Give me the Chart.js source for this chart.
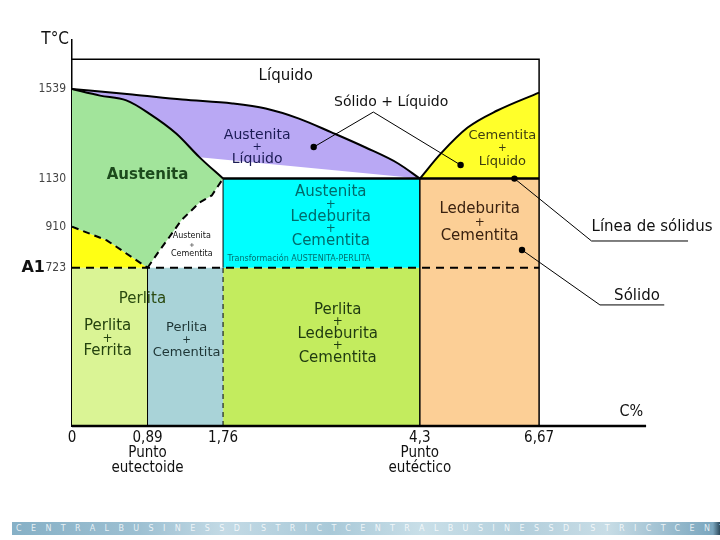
<!DOCTYPE html>
<html>
<head>
<meta charset="utf-8">
<script src="https://cdn.jsdelivr.net/npm/chart.js@4.4.1/dist/chart.umd.min.js"></script>
<style>
  html, body { margin: 0; padding: 0; background: #fff; }
  #wrap { position: relative; width: 720px; height: 540px; }
  #franja {
    position: absolute; left: 12px; top: 522px; width: 708px; height: 13px;
    background: linear-gradient(90deg, #86b0c6 0%, #9dc0d2 18%, #c3dae5 30%, #a9c9d8 45%, #c9dfe8 58%, #b3cfdc 72%, #c8dde6 84%, #7aa6be 99%, #2c4a5c 100%);
    font: 8px 'DejaVu Sans', sans-serif; color: rgba(255,255,255,0.8);
    letter-spacing: 9.4px; line-height: 13px; white-space: nowrap; overflow: hidden; padding-left: 4px; box-sizing: border-box;
  }
</style>
</head>
<body>
<div id="wrap">
  <canvas id="diagrama" width="720" height="540"></canvas>
  <div id="franja">CENTRALBUSINESSDISTRICTCENTRALBUSINESSDISTRICTCENTRA</div>
</div>
<script>
// ejes
const tickC = [0, 0.89, 1.76, 4.3, 6.67];
const tickCLabels = [['0'], ['0,89', 'Punto', 'eutectoide'], ['1,76'], ['4,3', 'Punto', 'eutéctico'], ['6,67']];
const tickT = [1539, 1130, 910, 723];

// puntos notables (C%, T°C)
const cEutectoide = 0.89, cMaxAust = 1.76, cEutectica = 4.3, cCementita = 6.67;
const tEutectica = 1130, tEutectoide = 723, tA3 = 910, tFusion = 1539, tTope = 1675;

// curvas del diagrama [C%, T°C]
const liquidus = [[0, 1539], [0.71, 1514], [1.29, 1491], [1.88, 1473], [2.31, 1450], [2.74, 1404], [3.16, 1341], [3.6, 1272], [4.02, 1199], [4.3, 1130]];
const solidus = [[0, 1539], [0.33, 1509], [0.64, 1487], [0.91, 1427], [1.22, 1336], [1.49, 1227], [1.76, 1130]];
const lineaA3 = [[0, 910], [0.41, 848], [0.89, 723]];
const lineaAcm = [[0.89, 723], [1.03, 803], [1.14, 862], [1.28, 940], [1.49, 1021], [1.63, 1053], [1.76, 1130]];
const liquidusCem = [[4.3, 1130], [4.72, 1245], [5.25, 1363], [5.84, 1441], [6.67, 1523]];

// lineas de referencia de los rotulos
const guiaSolidoLiquido = [[2.93, 1274], [3.7, 1434], [5.11, 1192]];
const guiaSolidus = [[6.18, 1130], [7.42, 845], [8.8, 845]];
const guiaSolido = [[6.33, 804], [7.54, 553], [8.46, 553]];
const puntosGuia = [[2.93, 1274], [5.11, 1192], [6.18, 1130], [6.33, 804]];

// escala X esquematica (el diagrama no esta a escala)
const escalaC = [0, 0.89, 1.76, 4.3, 6.67, 9.2];
const escalaFrac = [0, 76, 152, 350, 470, 648].map(v => v / 648);

function aFrac(c) {
  let i = 1;
  while (i < escalaC.length - 1 && c > escalaC[i]) i++;
  const c0 = escalaC[i - 1], c1 = escalaC[i];
  return escalaFrac[i - 1] + (c - c0) / (c1 - c0) * (escalaFrac[i] - escalaFrac[i - 1]);
}
function deFrac(f) {
  let i = 1;
  while (i < escalaFrac.length - 1 && f > escalaFrac[i]) i++;
  const f0 = escalaFrac[i - 1], f1 = escalaFrac[i];
  return escalaC[i - 1] + (f - f0) / (f1 - f0) * (escalaC[i] - escalaC[i - 1]);
}

class EscalaC extends Chart.LinearScale {
  getPixelForValue(v) {
    return v == null ? NaN : this.getPixelForDecimal(aFrac(v));
  }
  getValueForPixel(p) {
    return deFrac(this.getDecimalForPixel(p));
  }
}
EscalaC.id = 'escalaC';
EscalaC.defaults = Chart.LinearScale.defaults;
Chart.register(EscalaC);

const pts = arr => arr.map(([x, y]) => ({ x, y }));
const rect = (c0, c1, t0, t1) => [[c0, t0], [c1, t0], [c1, t1], [c0, t1]];

function zona(arr, color) {
  return { data: pts(arr), backgroundColor: color, borderWidth: 0, borderColor: 'rgba(0,0,0,0)', fill: 'shape', order: 10, pointRadius: 0 };
}
function linea(arr, ancho, guion, extra) {
  return Object.assign({ data: pts(arr), borderColor: '#000', borderWidth: ancho, borderDash: guion || [], fill: false, order: 0, pointRadius: 0 }, extra || {});
}
const suave = { cubicInterpolationMode: 'monotone' };

const datasets = [
  // zonas
  zona(liquidus.concat(solidus.slice().reverse().slice(1)), '#b9a8f4'),
  zona(solidus.concat(lineaAcm.slice().reverse().slice(1), lineaA3.slice().reverse().slice(1)), '#a2e49b'),
  zona(lineaA3.concat([[0, tEutectoide]]), '#ffff14'),
  zona(rect(cMaxAust, cEutectica, tEutectoide, tEutectica), '#00ffff'),
  zona(liquidusCem.concat([[cCementita, tEutectica]]), '#ffff2a'),
  zona(rect(cEutectica, cCementita, 0, tEutectica), '#fccf96'),
  zona(rect(0, cEutectoide, 0, tEutectoide), '#daf495'),
  zona(rect(cEutectoide, cMaxAust, 0, tEutectoide), '#a9d3d8'),
  zona(rect(cMaxAust, cEutectica, 0, tEutectoide), '#c3ec5e'),
  // lineas
  linea(liquidus, 2, [], suave),
  linea(solidus, 2, [], suave),
  linea(liquidusCem, 2, [], suave),
  linea([[cMaxAust, tEutectica], [cCementita, tEutectica]], 2.5),
  linea(lineaA3, 2, [7, 5]),
  linea(lineaAcm, 2, [7, 5]),
  linea([[0, tEutectoide], [cCementita, tEutectoide]], 2, [8, 6]),
  linea([[cEutectoide, 0], [cEutectoide, tEutectoide]], 1),
  linea([[cMaxAust, 0], [cMaxAust, tEutectoide]], 1, [5, 4]),
  linea([[cMaxAust, tEutectoide], [cMaxAust, tEutectica]], 1),
  linea([[cEutectica, 0], [cEutectica, tEutectica]], 1.5),
  linea([[0, tTope], [cCementita, tTope], [cCementita, 0]], 1.5),
  linea([[0, 0], [8.2, 0]], 2.5, [], { clip: false }),
  linea(guiaSolidoLiquido, 1),
  linea(guiaSolidus, 1),
  linea(guiaSolido, 1),
  { data: pts(puntosGuia), showLine: false, pointRadius: 3.2, pointBackgroundColor: '#000', pointBorderWidth: 0, order: 0 }
];

const FUENTE = "'DejaVu Sans', 'Noto Sans', sans-serif";
const ESTRECHA = "'Liberation Sans Narrow', 'DejaVu Sans Condensed', 'Liberation Sans', sans-serif";

const rotulos = [
  { x: 2.57, y: 1596, lineas: ['Líquido'], tam: 15, color: '#111' },
  { x: 3.93, y: 1477, lineas: ['Sólido + Líquido'], tam: 14, color: '#111' },
  { x: 2.2, y: 1274, lineas: ['Austenita', '+', 'Líquido'], paso: 12, tam: 14, color: '#1b1b55' },
  { x: 5.94, y: 1268, lineas: ['Cementita', '+', 'Líquido'], paso: 13, tam: 13, color: '#3d3d10' },
  { x: 0.89, y: 1146, lineas: ['Austenita'], tam: 15, color: '#1c4a1c', negrita: true },
  { x: 1.4, y: 827, lineas: ['Austenita', '+', 'Cementita'], paso: 9, tam: 8, color: '#111' },
  { x: 3.15, y: 955, lineas: ['Austenita', '+', 'Ledeburita', '+', 'Cementita'], paso: 12.3, tam: 15, color: '#006b6b' },
  { x: 2.74, y: 763, lineas: ['Transformación AUSTENITA-PERLITA'], tam: 8, color: '#00706f' },
  { x: 5.49, y: 927, lineas: ['Ledeburita', '+', 'Cementita'], paso: 13.5, tam: 15, color: '#3a2210' },
  { x: 0.83, y: 580, lineas: ['Perlita'], tam: 15, color: '#2a4a10' },
  { x: 0.42, y: 397, lineas: ['Perlita', '+', 'Ferrita'], paso: 12.5, tam: 15, color: '#24420e' },
  { x: 1.34, y: 393, lineas: ['Perlita', '+', 'Cementita'], paso: 12.5, tam: 13, color: '#1e3535' },
  { x: 3.24, y: 420, lineas: ['Perlita', '+', 'Ledeburita', '+', 'Cementita'], paso: 12, tam: 15, color: '#1f3a10' },
  { x: 7.42, y: 909, lineas: ['Línea de sólidus'], tam: 15, color: '#111', alinear: 'left' },
  { x: 8.07, y: 593, lineas: ['Sólido'], tam: 15, color: '#111' },
  { x: 7.99, y: 64, lineas: ['C%'], tam: 16, color: '#111', fuente: ESTRECHA }
];

const textos = {
  id: 'textos',
  afterDatasetsDraw(chart) {
    const { ctx, scales: { x, y }, chartArea } = chart;
    ctx.save();
    ctx.textBaseline = 'middle';
    rotulos.forEach(r => {
      const px = x.getPixelForValue(r.x);
      const py = y.getPixelForValue(r.y);
      const paso = r.paso || 0;
      const y0 = py - paso * (r.lineas.length - 1) / 2;
      ctx.fillStyle = r.color;
      ctx.textAlign = r.alinear || 'center';
      r.lineas.forEach((t, i) => {
        const tam = t === '+' ? r.tam * 0.8 : r.tam;
        ctx.font = (r.negrita ? 'bold ' : '') + tam + 'px ' + (r.fuente || FUENTE);
        ctx.fillText(t, px, y0 + i * paso);
      });
    });
    ctx.fillStyle = '#111';
    ctx.textAlign = 'right';
    ctx.font = '17px ' + ESTRECHA;
    ctx.fillText('T°C', chartArea.left - 3, chartArea.top);
    ctx.font = 'bold 16px ' + FUENTE;
    ctx.fillText('A1', chartArea.left - 27, y.getPixelForValue(tEutectoide));
    ctx.restore();
  }
};

new Chart(document.getElementById('diagrama'), {
  type: 'line',
  data: { datasets },
  options: {
    responsive: false,
    animation: false,
    layout: { padding: { top: 40, right: 0, left: 0, bottom: 0 } },
    plugins: { legend: { display: false }, tooltip: { enabled: false } },
    elements: { line: { tension: 0 } },
    scales: {
      x: {
        type: 'escalaC', min: 0, max: 9.2,
        border: { display: false }, grid: { display: false, drawTicks: false },
        afterBuildTicks: s => { s.ticks = tickC.map(v => ({ value: v })); },
        afterFit: s => { s.height = 114; },
        ticks: {
          autoSkip: false, maxRotation: 0, padding: 5, color: '#111',
          font: { family: ESTRECHA, size: 15, lineHeight: 1 },
          callback: (v, i) => tickCLabels[i]
        }
      },
      y: {
        type: 'linear', min: 0, max: 1763,
        border: { display: true, color: '#000', width: 1.5 }, grid: { display: false, drawTicks: false },
        afterBuildTicks: s => { s.ticks = tickT.map(v => ({ value: v })); },
        afterFit: s => { s.width = 72; },
        ticks: {
          padding: 6, color: '#444',
          font: { family: ESTRECHA, size: 12 },
          callback: v => String(v)
        }
      }
    }
  },
  plugins: [textos]
});
</script>
</body>
</html>
